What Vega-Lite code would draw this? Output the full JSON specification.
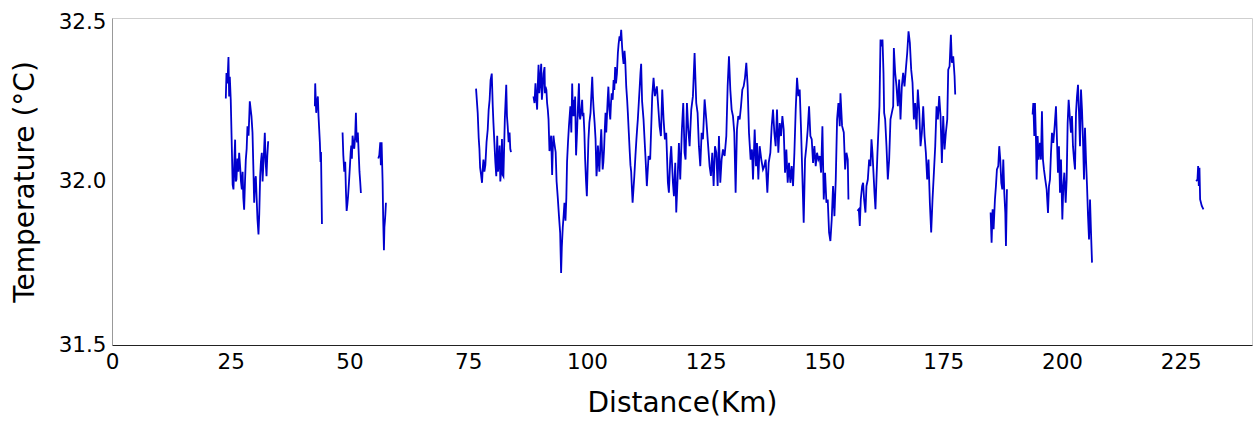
{
"$schema": "https://vega.github.io/schema/vega-lite/v6.json",
"width": 1140,
"height": 327,
"autosize": {"type": "none"},
"padding": {"left": 112, "top": 18, "right": 8, "bottom": 78},
"background": "white",
"config": {"view": {"stroke": "#cfcfcf", "strokeWidth": 1}, "font": "DejaVu Sans"},
"data": {"values": [
{"s":"A","d":23.96,"t":32.254},{"s":"A","d":24.1,"t":32.332},{"s":"A","d":24.3,"t":32.30},{"s":"A","d":24.52,"t":32.381},{"s":"A","d":24.66,"t":32.26},{"s":"A","d":24.8,"t":32.32},{"s":"A","d":25.0,"t":32.25},{"s":"A","d":25.22,"t":32.108},{"s":"A","d":25.4,"t":31.99},{"s":"A","d":25.57,"t":31.976},{"s":"A","d":25.75,"t":32.06},{"s":"A","d":25.92,"t":32.128},{"s":"A","d":26.05,"t":32.0},{"s":"A","d":26.2,"t":32.006},{"s":"A","d":26.4,"t":32.07},{"s":"A","d":26.6,"t":32.03},{"s":"A","d":26.77,"t":32.088},{"s":"A","d":27.0,"t":32.04},{"s":"A","d":27.15,"t":32.0},{"s":"A","d":27.33,"t":31.976},{"s":"A","d":27.5,"t":32.03},{"s":"A","d":27.65,"t":31.95},{"s":"A","d":27.82,"t":31.914},{"s":"A","d":28.0,"t":32.0},{"s":"A","d":28.17,"t":32.067},{"s":"A","d":28.35,"t":32.1},{"s":"A","d":28.52,"t":32.169},{"s":"A","d":28.75,"t":32.14},{"s":"A","d":29.01,"t":32.245},{"s":"A","d":29.2,"t":32.22},{"s":"A","d":29.36,"t":32.2},{"s":"A","d":29.58,"t":32.149},{"s":"A","d":29.75,"t":32.05},{"s":"A","d":29.93,"t":31.935},{"s":"A","d":30.1,"t":32.0},{"s":"A","d":30.28,"t":32.016},{"s":"A","d":30.45,"t":31.95},{"s":"A","d":30.63,"t":31.884},{"s":"A","d":30.84,"t":31.838},{"s":"A","d":31.0,"t":31.9},{"s":"A","d":31.19,"t":32.016},{"s":"A","d":31.35,"t":32.06},{"s":"A","d":31.54,"t":32.088},{"s":"A","d":31.7,"t":32.0},{"s":"A","d":31.82,"t":32.037},{"s":"A","d":32.0,"t":32.09},{"s":"A","d":32.17,"t":32.149},{"s":"A","d":32.35,"t":32.06},{"s":"A","d":32.53,"t":32.016},{"s":"A","d":32.7,"t":32.08},{"s":"A","d":32.88,"t":32.123},
{"s":"B","d":42.71,"t":32.23},{"s":"B","d":42.78,"t":32.30},{"s":"B","d":42.99,"t":32.21},{"s":"B","d":43.15,"t":32.24},{"s":"B","d":43.34,"t":32.26},{"s":"B","d":43.48,"t":32.2},{"s":"B","d":43.62,"t":32.16},{"s":"B","d":43.76,"t":32.12},{"s":"B","d":43.9,"t":32.06},{"s":"B","d":44.0,"t":32.09},{"s":"B","d":44.1,"t":31.98},{"s":"B","d":44.2,"t":31.87},
{"s":"C","d":48.54,"t":32.15},{"s":"C","d":48.7,"t":32.08},{"s":"C","d":48.9,"t":32.03},{"s":"C","d":49.1,"t":32.06},{"s":"C","d":49.25,"t":31.97},{"s":"C","d":49.4,"t":31.91},{"s":"C","d":49.55,"t":31.93},{"s":"C","d":49.7,"t":31.955},{"s":"C","d":49.9,"t":32.0},{"s":"C","d":50.1,"t":32.05},{"s":"C","d":50.25,"t":32.09},{"s":"C","d":50.37,"t":32.11},{"s":"C","d":50.5,"t":32.07},{"s":"C","d":50.65,"t":32.14},{"s":"C","d":50.8,"t":32.12},{"s":"C","d":51.0,"t":32.1},{"s":"C","d":51.2,"t":32.14},{"s":"C","d":51.35,"t":32.21},{"s":"C","d":51.5,"t":32.13},{"s":"C","d":51.6,"t":32.12},{"s":"C","d":51.75,"t":32.15},{"s":"C","d":51.9,"t":32.1},{"s":"C","d":52.1,"t":32.03},{"s":"C","d":52.25,"t":32.0},{"s":"C","d":52.4,"t":31.965},
{"s":"D","d":56.06,"t":32.07},{"s":"D","d":56.27,"t":32.08},{"s":"D","d":56.48,"t":32.12},{"s":"D","d":56.6,"t":32.05},{"s":"D","d":56.76,"t":32.12},{"s":"D","d":56.97,"t":32.0},{"s":"D","d":57.1,"t":31.88},{"s":"D","d":57.25,"t":31.79},{"s":"D","d":57.35,"t":31.86},{"s":"D","d":57.46,"t":31.88},{"s":"D","d":57.55,"t":31.9},{"s":"D","d":57.67,"t":31.935},
{"s":"E","d":76.64,"t":32.284},{"s":"E","d":76.99,"t":32.21},{"s":"E","d":77.2,"t":32.133},{"s":"E","d":77.35,"t":32.1},{"s":"E","d":77.5,"t":32.042},{"s":"E","d":77.7,"t":32.02},{"s":"E","d":77.9,"t":31.996},{"s":"E","d":78.05,"t":32.04},{"s":"E","d":78.2,"t":32.067},{"s":"E","d":78.4,"t":32.03},{"s":"E","d":78.6,"t":32.05},{"s":"E","d":78.85,"t":32.12},{"s":"E","d":79.1,"t":32.159},{"s":"E","d":79.3,"t":32.22},{"s":"E","d":79.5,"t":32.25},{"s":"E","d":79.7,"t":32.31},{"s":"E","d":79.95,"t":32.33},{"s":"E","d":80.16,"t":32.23},{"s":"E","d":80.3,"t":32.18},{"s":"E","d":80.5,"t":32.12},{"s":"E","d":80.7,"t":32.06},{"s":"E","d":80.9,"t":32.016},{"s":"E","d":81.1,"t":32.14},{"s":"E","d":81.25,"t":32.03},{"s":"E","d":81.4,"t":32.05},{"s":"E","d":81.6,"t":32.11},{"s":"E","d":81.75,"t":32.0},{"s":"E","d":81.9,"t":32.03},{"s":"E","d":82.1,"t":32.13},{"s":"E","d":82.25,"t":32.02},{"s":"E","d":82.4,"t":32.016},{"s":"E","d":82.55,"t":32.1},{"s":"E","d":82.7,"t":32.19},{"s":"E","d":83.0,"t":32.296},{"s":"E","d":83.15,"t":32.2},{"s":"E","d":83.3,"t":32.17},{"s":"E","d":83.5,"t":32.12},{"s":"E","d":83.7,"t":32.15},{"s":"E","d":83.85,"t":32.1},{"s":"E","d":84.0,"t":32.09},
{"s":"F","d":88.73,"t":32.26},{"s":"F","d":88.95,"t":32.24},{"s":"F","d":89.15,"t":32.3},{"s":"F","d":89.3,"t":32.26},{"s":"F","d":89.5,"t":32.22},{"s":"F","d":89.65,"t":32.3},{"s":"F","d":89.8,"t":32.357},{"s":"F","d":89.95,"t":32.27},{"s":"F","d":90.08,"t":32.29},{"s":"F","d":90.22,"t":32.33},{"s":"F","d":90.36,"t":32.36},{"s":"F","d":90.5,"t":32.25},{"s":"F","d":90.7,"t":32.29},{"s":"F","d":90.85,"t":32.33},{"s":"F","d":91.06,"t":32.35},{"s":"F","d":91.15,"t":32.27},{"s":"F","d":91.27,"t":32.29},{"s":"F","d":91.45,"t":32.28},{"s":"F","d":91.6,"t":32.24},{"s":"F","d":91.75,"t":32.22},{"s":"F","d":91.9,"t":32.19},{"s":"F","d":92.1,"t":32.093},{"s":"F","d":92.3,"t":32.12},{"s":"F","d":92.45,"t":32.14},{"s":"F","d":92.66,"t":32.02},{"s":"F","d":92.8,"t":32.1},{"s":"F","d":92.94,"t":32.14},{"s":"F","d":93.1,"t":32.12},{"s":"F","d":93.4,"t":32.09},{"s":"F","d":93.6,"t":32.0},{"s":"F","d":93.85,"t":31.95},{"s":"F","d":94.1,"t":31.894},{"s":"F","d":94.35,"t":31.843},{"s":"F","d":94.45,"t":31.78},{"s":"F","d":94.55,"t":31.72},{"s":"F","d":94.7,"t":31.8},{"s":"F","d":94.9,"t":31.86},{"s":"F","d":95.1,"t":31.9},{"s":"F","d":95.25,"t":31.935},{"s":"F","d":95.47,"t":31.88},{"s":"F","d":95.65,"t":31.95},{"s":"F","d":95.8,"t":32.06},{"s":"F","d":96.0,"t":32.12},{"s":"F","d":96.2,"t":32.17},{"s":"F","d":96.35,"t":32.2},{"s":"F","d":96.5,"t":32.23},{"s":"F","d":96.7,"t":32.15},{"s":"F","d":96.88,"t":32.3},{"s":"F","d":97.05,"t":32.2},{"s":"F","d":97.2,"t":32.25},{"s":"F","d":97.35,"t":32.2},{"s":"F","d":97.5,"t":32.26},{"s":"F","d":97.7,"t":32.08},{"s":"F","d":97.9,"t":32.15},{"s":"F","d":98.07,"t":32.22},{"s":"F","d":98.3,"t":32.3},{"s":"F","d":98.45,"t":32.2},{"s":"F","d":98.56,"t":32.19},{"s":"F","d":98.8,"t":32.22},{"s":"F","d":98.98,"t":32.25},{"s":"F","d":99.1,"t":32.2},{"s":"F","d":99.26,"t":32.21},{"s":"F","d":99.45,"t":32.15},{"s":"F","d":99.6,"t":32.07},{"s":"F","d":99.8,"t":32.0},{"s":"F","d":99.97,"t":31.955},{"s":"F","d":100.15,"t":32.05},{"s":"F","d":100.3,"t":32.128},{"s":"F","d":100.5,"t":32.18},{"s":"F","d":100.74,"t":32.21},{"s":"F","d":100.9,"t":32.26},{"s":"F","d":101.1,"t":32.32},{"s":"F","d":101.25,"t":32.26},{"s":"F","d":101.4,"t":32.22},{"s":"F","d":101.6,"t":32.18},{"s":"F","d":101.8,"t":32.13},{"s":"F","d":102.0,"t":32.016},{"s":"F","d":102.15,"t":32.05},{"s":"F","d":102.3,"t":32.11},{"s":"F","d":102.45,"t":32.07},{"s":"F","d":102.6,"t":32.03},{"s":"F","d":102.8,"t":32.1},{"s":"F","d":103.0,"t":32.16},{"s":"F","d":103.15,"t":32.1},{"s":"F","d":103.3,"t":32.037},{"s":"F","d":103.45,"t":32.06},{"s":"F","d":103.6,"t":32.1},{"s":"F","d":103.75,"t":32.16},{"s":"F","d":103.9,"t":32.21},{"s":"F","d":104.05,"t":32.15},{"s":"F","d":104.2,"t":32.2},{"s":"F","d":104.35,"t":32.25},{"s":"F","d":104.5,"t":32.29},{"s":"F","d":104.7,"t":32.22},{"s":"F","d":104.9,"t":32.19},{"s":"F","d":105.05,"t":32.24},{"s":"F","d":105.2,"t":32.27},{"s":"F","d":105.4,"t":32.25},{"s":"F","d":105.6,"t":32.31},{"s":"F","d":105.75,"t":32.28},{"s":"F","d":105.93,"t":32.35},{"s":"F","d":106.1,"t":32.3},{"s":"F","d":106.3,"t":32.33},{"s":"F","d":106.5,"t":32.393},{"s":"F","d":106.65,"t":32.42},{"s":"F","d":106.85,"t":32.444},{"s":"F","d":107.0,"t":32.43},{"s":"F","d":107.2,"t":32.464},{"s":"F","d":107.4,"t":32.41},{"s":"F","d":107.55,"t":32.38},{"s":"F","d":107.7,"t":32.36},{"s":"F","d":107.9,"t":32.4},{"s":"F","d":108.05,"t":32.37},{"s":"F","d":108.26,"t":32.29},{"s":"F","d":108.45,"t":32.25},{"s":"F","d":108.6,"t":32.21},{"s":"F","d":108.8,"t":32.15},{"s":"F","d":109.0,"t":32.09},{"s":"F","d":109.15,"t":32.05},{"s":"F","d":109.3,"t":32.03},{"s":"F","d":109.45,"t":31.98},{"s":"F","d":109.6,"t":31.935},{"s":"F","d":109.8,"t":31.98},{"s":"F","d":109.96,"t":32.016},{"s":"F","d":110.2,"t":32.08},{"s":"F","d":110.4,"t":32.128},{"s":"F","d":110.55,"t":32.16},{"s":"F","d":110.7,"t":32.19},{"s":"F","d":110.9,"t":32.24},{"s":"F","d":111.1,"t":32.29},{"s":"F","d":111.25,"t":32.33},{"s":"F","d":111.4,"t":32.36},{"s":"F","d":111.6,"t":32.245},{"s":"F","d":111.9,"t":32.19},{"s":"F","d":112.3,"t":32.078},{"s":"F","d":112.6,"t":31.986},{"s":"F","d":112.96,"t":32.078},{"s":"F","d":113.3,"t":32.067},{"s":"F","d":113.73,"t":32.261},{"s":"F","d":114.01,"t":32.317},{"s":"F","d":114.29,"t":32.261},{"s":"F","d":114.71,"t":32.291},{"s":"F","d":114.99,"t":32.23},{"s":"F","d":115.28,"t":32.169},{"s":"F","d":115.56,"t":32.139},{"s":"F","d":115.84,"t":32.281},{"s":"F","d":116.12,"t":32.19},{"s":"F","d":116.4,"t":32.129},{"s":"F","d":116.68,"t":32.149},{"s":"F","d":117.03,"t":31.996},{"s":"F","d":117.24,"t":31.966},{"s":"F","d":117.52,"t":32.067},{"s":"F","d":117.73,"t":32.108},{"s":"F","d":118.09,"t":31.996},{"s":"F","d":118.3,"t":31.955},{"s":"F","d":118.58,"t":32.057},{"s":"F","d":118.79,"t":31.905},{"s":"F","d":119.07,"t":32.006},{"s":"F","d":119.35,"t":32.118},{"s":"F","d":119.63,"t":32.006},{"s":"F","d":119.98,"t":32.159},{"s":"F","d":120.26,"t":32.24},{"s":"F","d":120.54,"t":32.088},{"s":"F","d":120.75,"t":32.067},{"s":"F","d":121.04,"t":32.24},{"s":"F","d":121.32,"t":32.159},{"s":"F","d":121.6,"t":32.108},{"s":"F","d":121.95,"t":32.22},{"s":"F","d":122.3,"t":32.261},{"s":"F","d":122.65,"t":32.393},{"s":"F","d":123.0,"t":32.24},{"s":"F","d":123.28,"t":32.21},{"s":"F","d":123.56,"t":32.108},{"s":"F","d":123.85,"t":32.047},{"s":"F","d":124.13,"t":32.149},{"s":"F","d":124.41,"t":32.129},{"s":"F","d":124.76,"t":32.251},{"s":"F","d":125.11,"t":32.19},{"s":"F","d":125.46,"t":32.118},{"s":"F","d":125.81,"t":32.047},{"s":"F","d":126.09,"t":32.017},{"s":"F","d":126.37,"t":32.088},{"s":"F","d":126.66,"t":31.986},{"s":"F","d":126.94,"t":32.108},{"s":"F","d":127.22,"t":32.088},{"s":"F","d":127.5,"t":31.986},{"s":"F","d":127.78,"t":32.139},{"s":"F","d":128.06,"t":31.996},{"s":"F","d":128.34,"t":32.067},{"s":"F","d":128.62,"t":32.098},{"s":"F","d":128.97,"t":32.078},{"s":"F","d":129.33,"t":32.139},{"s":"F","d":129.61,"t":32.291},{"s":"F","d":129.89,"t":32.383},{"s":"F","d":130.17,"t":32.281},{"s":"F","d":130.45,"t":32.22},{"s":"F","d":130.73,"t":32.2},{"s":"F","d":131.01,"t":32.149},{"s":"F","d":131.29,"t":31.966},{"s":"F","d":131.57,"t":32.159},{"s":"F","d":131.85,"t":32.2},{"s":"F","d":132.14,"t":32.19},{"s":"F","d":132.42,"t":32.23},{"s":"F","d":132.7,"t":32.281},{"s":"F","d":132.98,"t":32.291},{"s":"F","d":133.26,"t":32.317},{"s":"F","d":133.54,"t":32.363},{"s":"F","d":133.82,"t":32.291},{"s":"F","d":134.1,"t":32.149},{"s":"F","d":134.45,"t":32.067},{"s":"F","d":134.73,"t":32.098},{"s":"F","d":134.95,"t":32.006},{"s":"F","d":135.3,"t":32.159},{"s":"F","d":135.58,"t":32.047},{"s":"F","d":135.79,"t":32.118},{"s":"F","d":136.07,"t":32.006},{"s":"F","d":136.35,"t":32.108},{"s":"F","d":136.7,"t":32.067},{"s":"F","d":137.05,"t":32.037},{"s":"F","d":137.33,"t":32.047},{"s":"F","d":137.61,"t":32.067},{"s":"F","d":137.97,"t":31.966},{"s":"F","d":138.25,"t":32.057},{"s":"F","d":138.6,"t":32.088},{"s":"F","d":138.88,"t":32.169},{"s":"F","d":139.16,"t":32.22},{"s":"F","d":139.44,"t":32.149},{"s":"F","d":139.72,"t":32.108},{"s":"F","d":140.0,"t":32.22},{"s":"F","d":140.28,"t":32.088},{"s":"F","d":140.57,"t":32.179},{"s":"F","d":140.85,"t":32.139},{"s":"F","d":141.13,"t":32.2},{"s":"F","d":141.41,"t":32.159},{"s":"F","d":141.69,"t":32.027},{"s":"F","d":141.97,"t":32.098},{"s":"F","d":142.25,"t":31.996},{"s":"F","d":142.53,"t":32.057},{"s":"F","d":142.81,"t":31.996},{"s":"F","d":143.09,"t":32.047},{"s":"F","d":143.38,"t":31.986},{"s":"F","d":143.66,"t":32.088},{"s":"F","d":143.94,"t":32.22},{"s":"F","d":144.22,"t":32.317},{"s":"F","d":144.5,"t":32.261},{"s":"F","d":144.78,"t":32.281},{"s":"F","d":145.06,"t":32.159},{"s":"F","d":145.34,"t":32.017},{"s":"F","d":145.62,"t":31.874},{"s":"F","d":145.9,"t":32.067},{"s":"F","d":146.19,"t":32.108},{"s":"F","d":146.47,"t":32.159},{"s":"F","d":146.75,"t":32.23},{"s":"F","d":147.03,"t":32.139},{"s":"F","d":147.31,"t":32.129},{"s":"F","d":147.59,"t":32.057},{"s":"F","d":147.87,"t":32.108},{"s":"F","d":148.15,"t":32.047},{"s":"F","d":148.43,"t":32.088},{"s":"F","d":148.71,"t":32.067},{"s":"F","d":149.0,"t":32.078},{"s":"F","d":149.28,"t":32.027},{"s":"F","d":149.56,"t":32.169},{"s":"F","d":149.84,"t":31.945},{"s":"F","d":150.12,"t":32.027},{"s":"F","d":150.4,"t":31.935},{"s":"F","d":150.68,"t":31.945},{"s":"F","d":150.96,"t":31.844},{"s":"F","d":151.24,"t":31.818},{"s":"F","d":151.52,"t":31.884},{"s":"F","d":151.8,"t":31.986},{"s":"F","d":152.09,"t":31.894},{"s":"F","d":152.37,"t":32.006},{"s":"F","d":152.65,"t":32.19},{"s":"F","d":152.93,"t":32.24},{"s":"F","d":153.21,"t":32.169},{"s":"F","d":153.36,"t":32.27},{"s":"F","d":153.7,"t":32.17},{"s":"F","d":154.06,"t":32.15},{"s":"F","d":154.34,"t":32.037},{"s":"F","d":154.62,"t":32.088},{"s":"F","d":154.9,"t":32.067},{"s":"F","d":155.04,"t":31.945},
{"s":"G","d":156.94,"t":31.91},{"s":"G","d":157.22,"t":31.915},{"s":"G","d":157.43,"t":31.864},{"s":"G","d":157.64,"t":31.945},{"s":"G","d":157.92,"t":31.986},{"s":"G","d":158.13,"t":31.996},{"s":"G","d":158.34,"t":31.945},{"s":"G","d":158.62,"t":31.905},{"s":"G","d":158.83,"t":31.986},{"s":"G","d":159.12,"t":32.006},{"s":"G","d":159.4,"t":32.067},{"s":"G","d":159.68,"t":32.047},{"s":"G","d":159.89,"t":32.129},{"s":"G","d":160.1,"t":32.088},{"s":"G","d":160.31,"t":32.027},{"s":"G","d":160.52,"t":31.966},{"s":"G","d":160.73,"t":31.915},{"s":"G","d":160.94,"t":32.006},{"s":"G","d":161.15,"t":32.088},{"s":"G","d":161.36,"t":32.159},{"s":"G","d":161.57,"t":32.23},{"s":"G","d":161.79,"t":32.434},{"s":"G","d":162.0,"t":32.413},{"s":"G","d":162.21,"t":32.434},{"s":"G","d":162.42,"t":32.332},{"s":"G","d":162.56,"t":32.21},{"s":"G","d":162.77,"t":32.19},{"s":"G","d":163.05,"t":32.108},{"s":"G","d":163.33,"t":32.006},{"s":"G","d":163.61,"t":32.067},{"s":"G","d":163.89,"t":32.19},{"s":"G","d":164.17,"t":32.21},{"s":"G","d":164.46,"t":32.23},{"s":"G","d":164.6,"t":32.408},{"s":"G","d":164.88,"t":32.332},{"s":"G","d":165.16,"t":32.291},{"s":"G","d":165.44,"t":32.23},{"s":"G","d":165.72,"t":32.312},{"s":"G","d":166.0,"t":32.19},{"s":"G","d":166.28,"t":32.291},{"s":"G","d":166.56,"t":32.332},{"s":"G","d":166.84,"t":32.291},{"s":"G","d":167.12,"t":32.342},{"s":"G","d":167.41,"t":32.393},{"s":"G","d":167.69,"t":32.459},{"s":"G","d":167.97,"t":32.424},{"s":"G","d":168.25,"t":32.342},{"s":"G","d":168.53,"t":32.302},{"s":"G","d":168.81,"t":32.19},{"s":"G","d":169.09,"t":32.24},{"s":"G","d":169.37,"t":32.159},{"s":"G","d":169.65,"t":32.281},{"s":"G","d":169.93,"t":32.22},{"s":"G","d":170.22,"t":32.108},{"s":"G","d":170.5,"t":32.149},{"s":"G","d":170.78,"t":32.23},{"s":"G","d":171.06,"t":32.139},{"s":"G","d":171.34,"t":32.088},{"s":"G","d":171.62,"t":32.006},{"s":"G","d":171.9,"t":32.067},{"s":"G","d":172.18,"t":31.935},{"s":"G","d":172.46,"t":31.844},{"s":"G","d":172.74,"t":31.945},{"s":"G","d":173.03,"t":32.027},{"s":"G","d":173.31,"t":32.108},{"s":"G","d":173.59,"t":32.23},{"s":"G","d":173.87,"t":32.19},{"s":"G","d":174.15,"t":32.261},{"s":"G","d":174.43,"t":32.2},{"s":"G","d":174.71,"t":32.057},{"s":"G","d":174.99,"t":32.2},{"s":"G","d":175.27,"t":32.098},{"s":"G","d":175.55,"t":32.149},{"s":"G","d":175.84,"t":32.19},{"s":"G","d":176.05,"t":32.342},{"s":"G","d":176.33,"t":32.352},{"s":"G","d":176.61,"t":32.449},{"s":"G","d":176.82,"t":32.363},{"s":"G","d":177.1,"t":32.383},{"s":"G","d":177.38,"t":32.322},{"s":"G","d":177.52,"t":32.266},
{"s":"H","d":184.97,"t":31.905},{"s":"H","d":185.18,"t":31.813},{"s":"H","d":185.39,"t":31.915},{"s":"H","d":185.6,"t":31.854},{"s":"H","d":185.88,"t":31.945},{"s":"H","d":186.09,"t":31.986},{"s":"H","d":186.3,"t":32.037},{"s":"H","d":186.58,"t":32.047},{"s":"H","d":186.79,"t":32.108},{"s":"H","d":187.0,"t":32.067},{"s":"H","d":187.22,"t":31.996},{"s":"H","d":187.43,"t":31.976},{"s":"H","d":187.64,"t":32.067},{"s":"H","d":187.85,"t":31.966},{"s":"H","d":188.06,"t":31.905},{"s":"H","d":188.2,"t":31.803},{"s":"H","d":188.41,"t":31.976},
{"s":"I","d":193.81,"t":32.205},{"s":"I","d":193.96,"t":32.24},{"s":"I","d":194.17,"t":32.139},{"s":"I","d":194.31,"t":32.24},{"s":"I","d":194.52,"t":32.128},{"s":"I","d":194.66,"t":32.006},{"s":"I","d":194.87,"t":32.139},{"s":"I","d":195.08,"t":32.067},{"s":"I","d":195.36,"t":32.118},{"s":"I","d":195.57,"t":32.067},{"s":"I","d":195.78,"t":32.215},{"s":"I","d":195.99,"t":32.067},{"s":"I","d":196.2,"t":32.037},{"s":"I","d":196.48,"t":32.006},{"s":"I","d":196.77,"t":31.976},{"s":"I","d":197.05,"t":31.904},{"s":"I","d":197.26,"t":31.986},{"s":"I","d":197.47,"t":32.006},{"s":"I","d":197.68,"t":32.088},{"s":"I","d":197.89,"t":32.149},{"s":"I","d":198.17,"t":32.118},{"s":"I","d":198.45,"t":32.169},{"s":"I","d":198.73,"t":32.23},{"s":"I","d":198.94,"t":32.128},{"s":"I","d":199.15,"t":32.027},{"s":"I","d":199.36,"t":32.108},{"s":"I","d":199.58,"t":31.966},{"s":"I","d":199.79,"t":32.067},{"s":"I","d":200.07,"t":31.884},{"s":"I","d":200.28,"t":31.986},{"s":"I","d":200.49,"t":32.027},{"s":"I","d":200.77,"t":31.935},{"s":"I","d":200.98,"t":32.006},{"s":"I","d":201.19,"t":32.179},{"s":"I","d":201.4,"t":32.25},{"s":"I","d":201.68,"t":32.19},{"s":"I","d":201.89,"t":32.149},{"s":"I","d":202.1,"t":32.2},{"s":"I","d":202.31,"t":32.108},{"s":"I","d":202.53,"t":32.067},{"s":"I","d":202.74,"t":32.037},{"s":"I","d":202.95,"t":32.21},{"s":"I","d":203.16,"t":32.261},{"s":"I","d":203.37,"t":32.296},{"s":"I","d":203.58,"t":32.21},{"s":"I","d":203.79,"t":32.108},{"s":"I","d":204.0,"t":32.281},{"s":"I","d":204.21,"t":32.22},{"s":"I","d":204.42,"t":32.128},{"s":"I","d":204.63,"t":32.006},{"s":"I","d":204.84,"t":32.164},{"s":"I","d":205.05,"t":32.067},{"s":"I","d":205.27,"t":31.986},{"s":"I","d":205.48,"t":31.894},{"s":"I","d":205.69,"t":31.823},{"s":"I","d":205.9,"t":31.945},{"s":"I","d":206.11,"t":31.843},{"s":"I","d":206.32,"t":31.752},
{"s":"J","d":228.24,"t":32.001},{"s":"J","d":228.52,"t":32.006},{"s":"J","d":228.66,"t":32.047},{"s":"J","d":228.8,"t":31.986},{"s":"J","d":228.94,"t":32.042},{"s":"J","d":229.08,"t":31.945},{"s":"J","d":229.43,"t":31.925},{"s":"J","d":229.78,"t":31.915}
]},
"mark": {"type": "line", "color": "#0000cd", "strokeWidth": 1.8, "clip": true},
"encoding": {
  "x": {"field": "d", "type": "quantitative",
    "scale": {"domain": [0, 240], "nice": false, "zero": false},
    "axis": {"title": "Distance(Km)", "values": [0,25,50,75,100,125,150,175,200,225], "grid": false, "ticks": false,
      "labelFont": "DejaVu Sans", "labelFontSize": 21.5, "labelColor": "black", "labelPadding": 6, "labelFlush": false,
      "titleFont": "DejaVu Sans", "titleFontSize": 28, "titleFontWeight": "normal", "titleColor": "black", "titlePadding": 17,
      "domainColor": "#222222", "domainWidth": 1}},
  "y": {"field": "t", "type": "quantitative",
    "scale": {"domain": [31.5, 32.5], "nice": false, "zero": false},
    "axis": {"title": "Temperature (°C)", "values": [31.5, 32.0, 32.5], "format": ".1f", "grid": false, "ticks": false,
      "labelFont": "DejaVu Sans", "labelFontSize": 21.5, "labelColor": "black", "labelPadding": 6, "labelFlush": false,
      "labelOffset": {"condition": {"test": "datum.value == 32.5", "value": 4}, "value": 0},
      "titleFont": "DejaVu Sans", "titleFontSize": 28, "titleFontWeight": "normal", "titleColor": "black", "titlePadding": 19,
      "domainColor": "#999999", "domainWidth": 1}},
  "detail": {"field": "s", "type": "nominal"}
}
}
